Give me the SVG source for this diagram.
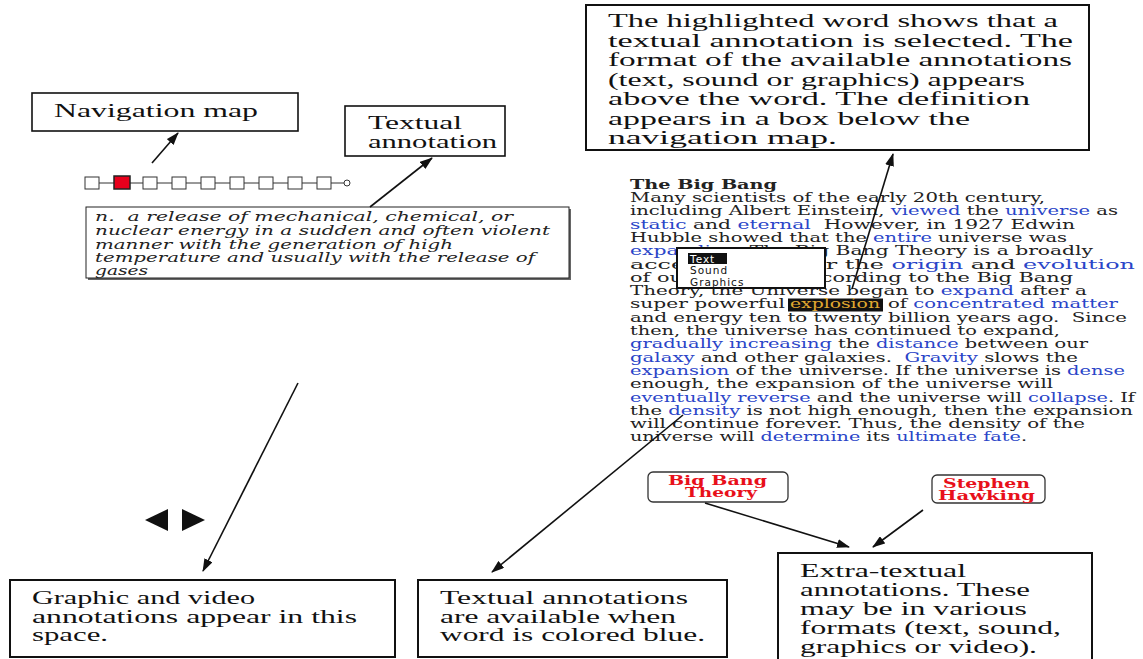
<svg xmlns="http://www.w3.org/2000/svg" width="1143" height="659" viewBox="0 0 1143 659">
<defs>
<style>
.box{fill:#fff;stroke:#111;stroke-width:2}
.t{font-family:"Liberation Serif","Times New Roman",serif;font-size:19px;fill:#111}
.b{font-family:"DejaVu Serif",serif;font-size:13px;fill:#222;white-space:pre}
.bl{fill:#2a45c8}
.d{font-family:"DejaVu Serif",serif;font-style:italic;font-size:12.5px;fill:#222;white-space:pre}
.r{font-family:"DejaVu Serif",serif;font-weight:bold;font-size:13px;fill:#e8101a}
.p{font-family:"DejaVu Sans",sans-serif;font-size:10.5px;fill:#111;letter-spacing:1px}
.c{stroke:#111;stroke-width:1.6;fill:none}
.sq{fill:#fff;stroke:#333;stroke-width:1}
</style>
<marker id="ah" markerUnits="userSpaceOnUse" markerWidth="13" markerHeight="9" refX="12" refY="4.5" orient="auto">
<path d="M0,0 L13,4.5 L0,9 Z" fill="#111"/>
</marker>
</defs>
<rect width="1143" height="659" fill="#fff"/>

<g id="top-note">
<rect class="box" x="586" y="5" width="503" height="145"/>
<text class="t" x="608" y="27" textLength="450" lengthAdjust="spacingAndGlyphs">The highlighted word shows that a</text>
<text class="t" x="608" y="46.5" textLength="465" lengthAdjust="spacingAndGlyphs">textual annotation is selected. The</text>
<text class="t" x="608" y="66" textLength="464" lengthAdjust="spacingAndGlyphs">format of the available annotations</text>
<text class="t" x="608" y="85.5" textLength="417" lengthAdjust="spacingAndGlyphs">(text, sound or graphics) appears</text>
<text class="t" x="608" y="105" textLength="422" lengthAdjust="spacingAndGlyphs">above the word. The definition</text>
<text class="t" x="608" y="124.5" textLength="362" lengthAdjust="spacingAndGlyphs">appears in a box below the</text>
<text class="t" x="608" y="144" textLength="229" lengthAdjust="spacingAndGlyphs">navigation map.</text>
</g>

<g id="nav-label">
<rect class="box" x="32" y="93" width="266" height="38" style="stroke-width:1.6"/>
<text class="t" x="54" y="117" textLength="204" lengthAdjust="spacingAndGlyphs">Navigation map</text>
</g>

<g id="textual-label">
<rect class="box" x="345" y="106" width="160" height="50" style="stroke-width:1.6"/>
<text class="t" x="368" y="129" textLength="94" lengthAdjust="spacingAndGlyphs">Textual</text>
<text class="t" x="368" y="148" textLength="129" lengthAdjust="spacingAndGlyphs">annotation</text>
</g>

<g id="nav-map">
<path d="M99,183 H114 M130,183 H143 M157,183 H172 M186,183 H201 M215,183 H230 M244,183 H259 M273,183 H288 M302,183 H317 M331,183 H344" stroke="#333" stroke-width="1"/>
<rect class="sq" x="85" y="177" width="14" height="12"/>
<rect x="114" y="176" width="16" height="13" fill="#e8001c" stroke="#222" stroke-width="1.5"/>
<rect class="sq" x="143" y="177" width="14" height="12"/>
<rect class="sq" x="172" y="177" width="14" height="12"/>
<rect class="sq" x="201" y="177" width="14" height="12"/>
<rect class="sq" x="230" y="177" width="14" height="12"/>
<rect class="sq" x="259" y="177" width="14" height="12"/>
<rect class="sq" x="288" y="177" width="14" height="12"/>
<rect class="sq" x="317" y="177" width="14" height="12"/>
<circle cx="347" cy="183" r="3" fill="#fff" stroke="#333" stroke-width="1"/>
</g>

<g id="definition">
<rect x="88" y="209" width="483" height="71" fill="#666"/>
<rect x="86" y="207" width="483" height="71" fill="#fff" stroke="#222" stroke-width="1"/>
<text class="d" x="95" y="221" textLength="418" lengthAdjust="spacingAndGlyphs">n.  a release of mechanical, chemical, or</text>
<text class="d" x="95" y="235" textLength="455" lengthAdjust="spacingAndGlyphs">nuclear energy in a sudden and often violent</text>
<text class="d" x="95" y="248.5" textLength="358" lengthAdjust="spacingAndGlyphs">manner with the generation of high</text>
<text class="d" x="95" y="262" textLength="440" lengthAdjust="spacingAndGlyphs">temperature and usually with the release of</text>
<text class="d" x="95" y="275" textLength="53" lengthAdjust="spacingAndGlyphs">gases</text>
</g>

<g id="big-bang-text">
<text class="b" x="630" y="189" textLength="147" lengthAdjust="spacingAndGlyphs" font-weight="bold">The Big Bang</text>
<text class="b" x="630" y="202" textLength="415" lengthAdjust="spacingAndGlyphs">Many scientists of the early 20th century,</text>
<text class="b" x="630" y="215.3" textLength="488" lengthAdjust="spacingAndGlyphs">including Albert Einstein, <tspan class="bl">viewed</tspan> the <tspan class="bl">universe</tspan> as</text>
<text class="b" x="630" y="228.6" textLength="445" lengthAdjust="spacingAndGlyphs"><tspan class="bl">static</tspan> and <tspan class="bl">eternal</tspan>  However, in 1927 Edwin</text>
<text class="b" x="630" y="241.9" textLength="437" lengthAdjust="spacingAndGlyphs">Hubble showed that the <tspan class="bl">entire</tspan> universe was</text>
<text class="b" x="630" y="255.2" textLength="463" lengthAdjust="spacingAndGlyphs"><tspan class="bl">expanding</tspan>. The Big Bang Theory is a broadly</text>
<text class="b" x="630" y="268.5" textLength="505" lengthAdjust="spacingAndGlyphs">accepted way for the <tspan class="bl">origin</tspan> and <tspan class="bl">evolution</tspan></text>
<text class="b" x="630" y="281.8" textLength="443" lengthAdjust="spacingAndGlyphs">of our universe according to the Big Bang</text>
<text class="b" x="630" y="295.1" textLength="457" lengthAdjust="spacingAndGlyphs">Theory, the Universe began to <tspan class="bl">expand</tspan> after a</text>
<text class="b" x="630" y="308.4" textLength="155" lengthAdjust="spacingAndGlyphs">super powerful</text>
<rect x="788" y="298.5" width="95" height="13" fill="#111"/>
<text class="b" x="790" y="308.4" textLength="90" lengthAdjust="spacingAndGlyphs" style="fill:#e0a830">explosion</text>
<text class="b" x="888" y="308.4" textLength="230" lengthAdjust="spacingAndGlyphs">of <tspan class="bl">concentrated matter</tspan></text>
<text class="b" x="630" y="321.7" textLength="497" lengthAdjust="spacingAndGlyphs">and energy ten to twenty billion years ago.  Since</text>
<text class="b" x="630" y="335" textLength="430" lengthAdjust="spacingAndGlyphs">then, the universe has continued to expand,</text>
<text class="b" x="630" y="348.3" textLength="458" lengthAdjust="spacingAndGlyphs"><tspan class="bl">gradually increasing</tspan> the <tspan class="bl">distance</tspan> between our</text>
<text class="b" x="630" y="361.6" textLength="448" lengthAdjust="spacingAndGlyphs"><tspan class="bl">galaxy</tspan> and other galaxies.  <tspan class="bl">Gravity</tspan> slows the</text>
<text class="b" x="630" y="374.9" textLength="495" lengthAdjust="spacingAndGlyphs"><tspan class="bl">expansion</tspan> of the universe. If the universe is <tspan class="bl">dense</tspan></text>
<text class="b" x="630" y="388.2" textLength="423" lengthAdjust="spacingAndGlyphs">enough, the expansion of the universe will</text>
<text class="b" x="630" y="401.5" textLength="505" lengthAdjust="spacingAndGlyphs"><tspan class="bl">eventually reverse</tspan> and the universe will <tspan class="bl">collapse</tspan>. If</text>
<text class="b" x="630" y="414.8" textLength="503" lengthAdjust="spacingAndGlyphs">the <tspan class="bl">density</tspan> is not high enough, then the expansion</text>
<text class="b" x="630" y="428.1" textLength="455" lengthAdjust="spacingAndGlyphs">will continue forever. Thus, the density of the</text>
<text class="b" x="630" y="441.4" textLength="397" lengthAdjust="spacingAndGlyphs">universe will <tspan class="bl">determine</tspan> its <tspan class="bl">ultimate fate</tspan>.</text>
</g>

<g id="popup">
<rect x="677" y="248" width="148" height="40" fill="#fff" stroke="#111" stroke-width="2"/>
<rect x="688" y="253" width="39" height="11" fill="#111"/>
<text class="p" x="690" y="262.5" style="fill:#fff">Text</text>
<text class="p" x="690" y="274">Sound</text>
<text class="p" x="690" y="285.5">Graphics</text>
</g>

<g id="media-controls">
<polygon points="145,520 168,509 168,531" fill="#111"/>
<polygon points="182,509 205,520 182,531" fill="#111"/>
</g>

<g id="big-bang-theory">
<rect x="648" y="472" width="140" height="30" rx="5" fill="#fff" stroke="#333" stroke-width="1.3"/>
<text class="r" x="668" y="485" textLength="99" lengthAdjust="spacingAndGlyphs">Big Bang</text>
<text class="r" x="685" y="497" textLength="72" lengthAdjust="spacingAndGlyphs">Theory</text>
</g>

<g id="stephen-hawking">
<rect x="932" y="475" width="113" height="28" rx="5" fill="#fff" stroke="#333" stroke-width="1.3"/>
<text class="r" x="943" y="487.5" textLength="87" lengthAdjust="spacingAndGlyphs">Stephen</text>
<text class="r" x="938" y="500" textLength="97" lengthAdjust="spacingAndGlyphs">Hawking</text>
</g>

<g id="graphic-note">
<rect class="box" x="10" y="580" width="385" height="77"/>
<text class="t" x="32" y="604" textLength="223" lengthAdjust="spacingAndGlyphs">Graphic and video</text>
<text class="t" x="32" y="622.5" textLength="325" lengthAdjust="spacingAndGlyphs">annotations appear in this</text>
<text class="t" x="32" y="641" textLength="76" lengthAdjust="spacingAndGlyphs">space.</text>
</g>

<g id="textual-note">
<rect class="box" x="418" y="580" width="309" height="77"/>
<text class="t" x="440" y="604" textLength="248" lengthAdjust="spacingAndGlyphs">Textual annotations</text>
<text class="t" x="440" y="622.5" textLength="236" lengthAdjust="spacingAndGlyphs">are available when</text>
<text class="t" x="440" y="641" textLength="265" lengthAdjust="spacingAndGlyphs">word is colored blue.</text>
</g>

<g id="extra-note">
<rect class="box" x="778" y="553" width="314" height="110"/>
<text class="t" x="800" y="577" textLength="166" lengthAdjust="spacingAndGlyphs">Extra-textual</text>
<text class="t" x="800" y="596" textLength="230" lengthAdjust="spacingAndGlyphs">annotations. These</text>
<text class="t" x="800" y="615" textLength="227" lengthAdjust="spacingAndGlyphs">may be in various</text>
<text class="t" x="800" y="634" textLength="261" lengthAdjust="spacingAndGlyphs">formats (text, sound,</text>
<text class="t" x="800" y="653" textLength="237" lengthAdjust="spacingAndGlyphs">graphics or video).</text>
</g>

<g id="connectors">
<path class="c" d="M152,163 L178,133" marker-end="url(#ah)"/>
<path class="c" d="M370,207 L432,158" marker-end="url(#ah)"/>
<path class="c" d="M852,289 L893,154" marker-end="url(#ah)"/>
<path class="c" d="M298,383 L203,571" marker-end="url(#ah)"/>
<path class="c" d="M683,415 L492,572" marker-end="url(#ah)"/>
<path class="c" d="M705,503 L849,547" marker-end="url(#ah)"/>
<path class="c" d="M923,510 L873,547" marker-end="url(#ah)"/>
</g>
</svg>
